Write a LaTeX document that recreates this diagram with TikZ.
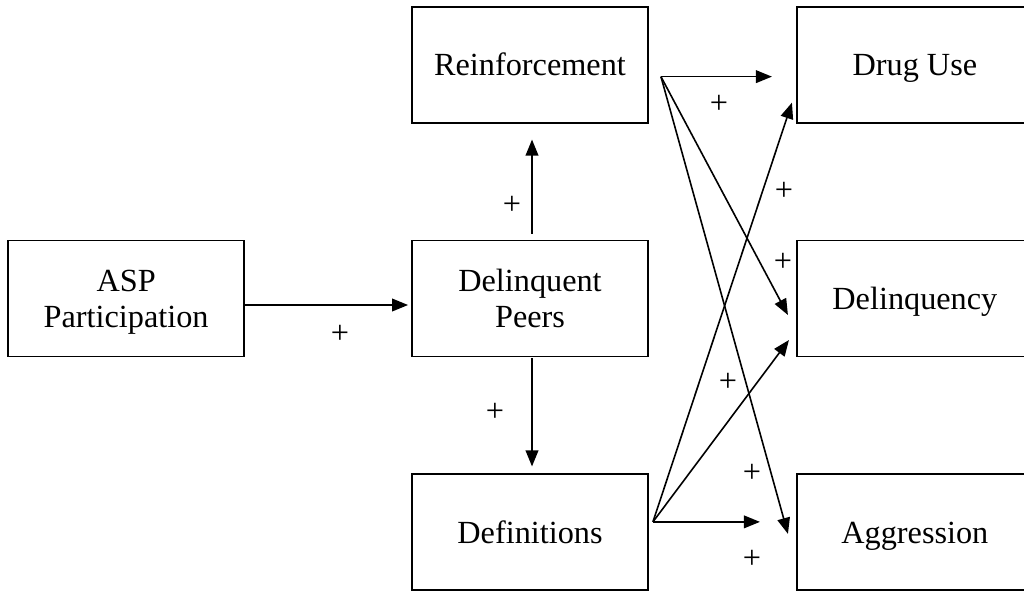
\documentclass[tikz,border=0pt]{standalone}
\usepackage{fontspec}
\setmainfont{Liberation Serif}
\usetikzlibrary{positioning, calc, arrows.meta}

\begin{document}
\begin{tikzpicture}[
        x=0.75pt, y=-0.75pt,
        font=\fontsize{24.2}{27}\selectfont,
        node distance=87pt and 110.25pt,
        box/.style={rectangle, draw=black, line width=1.4pt, minimum width=177pt, minimum height=87pt, align=center, inner sep=0pt, text depth=0pt},
        arr/.style={-{Triangle[length=12pt, width=9.5pt]}, line width=1.2pt},
        sign/.style={inner sep=0pt}
    ]
        \useasboundingbox (0,0) rectangle (1024,590);
        \clip (0,0) rectangle (1024,590);

        \node[box] (PEERS) at (530,298.5) {Delinquent\\Peers};
        \node[box, above=of PEERS] (REINF) {Reinforcement};
        \node[box, below=of PEERS] (DEFS) {Definitions};
        \node[box, left=124.5pt of PEERS] (ASP) {ASP\\Participation};
        \node[box, right=of PEERS] (DELQ) {Delinquency};
        \node[box, above=of DELQ] (DRUG) {Drug Use};
        \node[box, below=of DELQ] (AGGR) {Aggression};

        % start points of the fan-out arrows
        \coordinate (RSRC) at ($(REINF.east)+(12,12)$);
        \coordinate (DSRC) at ($(DEFS.east)+(4,-10.5)$);

        \draw[arr] ($(ASP.east)+(0,6.5)$) -- ($(PEERS.west)+(-3,6.5)$);
        \draw[arr] ($(PEERS.north)+(2,-6)$) -- ($(REINF.south)+(2,16)$);
        \draw[arr] ($(PEERS.south)+(2,1)$) -- ($(DEFS.north)+(2,-7)$);

        \draw[arr] (RSRC) -- ($(DRUG.west)+(-24,12)$);
        \draw[arr] (RSRC) -- ($(DELQ.west)+(-8,16.5)$);
        \draw[arr] (RSRC) -- ($(AGGR.west)+(-8,1.5)$);

        \draw[arr] (DSRC) -- ($(DRUG.west)+(-4,38)$);
        \draw[arr] (DSRC) -- ($(DELQ.west)+(-7,41.5)$);
        \draw[arr] (DSRC) -- ($(AGGR.west)+(-36,-10.5)$);

        % path signs
        \node[sign] (S1) at (340,334) {+};
        \node[sign] (S2) at (512,205) {+};
        \node[sign] (S3) at (495,412) {+};
        \node[sign] (S4) at (719,104) {+};
        \node[sign] (S5) at (784,191) {+};
        \node[sign] (S6) at (783,262) {+};
        \node[sign] (S7) at (728,382) {+};
        \node[sign] (S8) at (752,473) {+};
        \node[sign] (S9) at (752,559) {+};
    \end{tikzpicture}
\end{document}
